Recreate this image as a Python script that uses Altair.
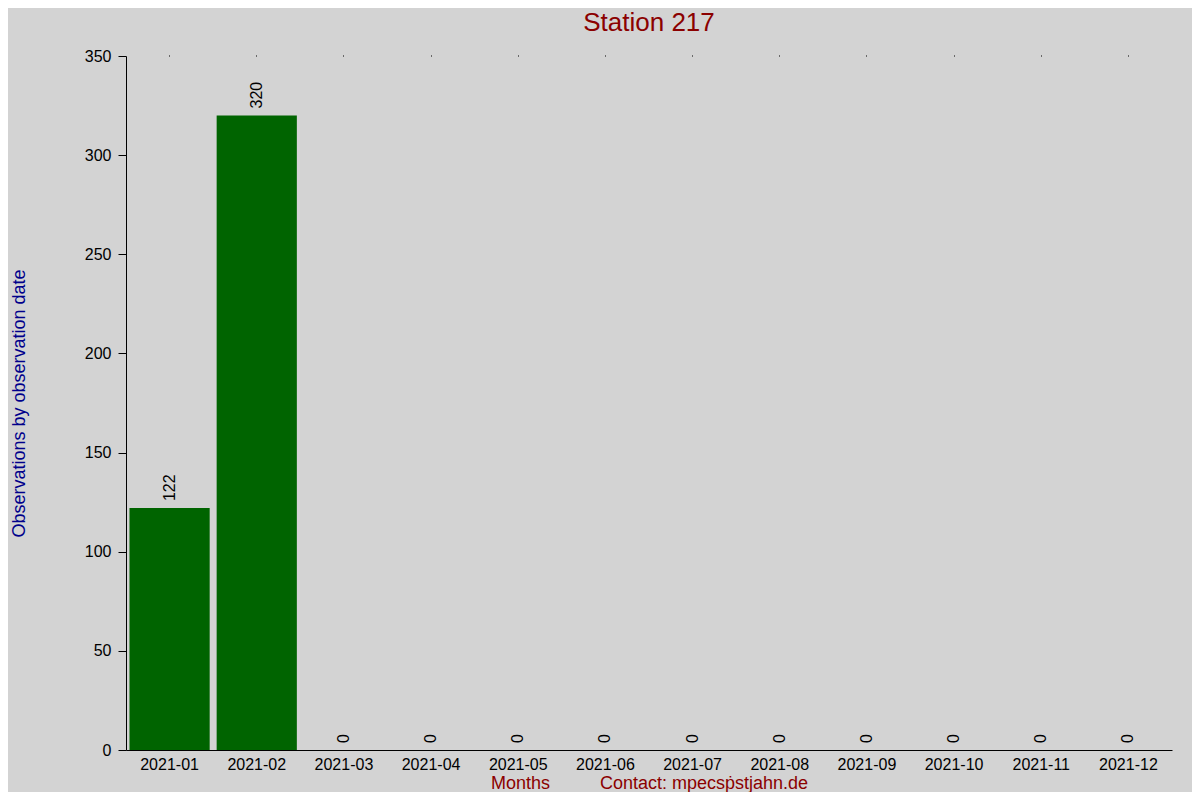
import altair as alt
import pandas as pd

months = ["2021-01", "2021-02", "2021-03", "2021-04", "2021-05", "2021-06",
          "2021-07", "2021-08", "2021-09", "2021-10", "2021-11", "2021-12"]
counts = [122, 320, 0, 0, 0, 0, 0, 0, 0, 0, 0, 0]

df = pd.DataFrame({"month": months, "count": counts})

FONT = "Liberation Sans"
xscale = alt.Scale(paddingInner=0.08, paddingOuter=0.04)
yscale = alt.Scale(domain=[0, 350], nice=False)

xtitle = "Months" + "\u00a0" * 10 + "Contact: mpecs\u1e57stjahn.de"

base = alt.Chart(df)

bars = base.mark_bar(color="#006400").encode(
    x=alt.X("month:N", sort=months, scale=xscale,
            axis=alt.Axis(title=xtitle, titleFont=FONT, titleFontSize=18,
                          titleFontWeight="normal", titleColor="#8B0000",
                          titleX=523, titleY=38, titleBaseline="alphabetic",
                          titleAlign="center",
                          labelFont=FONT, labelFontSize=16, labelColor="black",
                          labelAngle=0, labelPadding=6, ticks=False,
                          domainColor="black", domainWidth=1)),
    y=alt.Y("count:Q", scale=yscale,
            axis=alt.Axis(values=[0, 50, 100, 150, 200, 250, 300, 350],
                          title="Observations by observation date",
                          titleFont=FONT, titleFontSize=18, titleFontWeight="normal",
                          titleColor="#00008B", titleX=-107, titleY=347,
                          titleAngle=270, titleAlign="center", titleBaseline="middle",
                          labelFont=FONT, labelFontSize=16, labelColor="black",
                          labelPadding=7, tickSize=8, tickColor="black",
                          domainColor="black", grid=False)),
)

labels = base.mark_text(angle=270, align="left", baseline="middle", dx=7,
                        fontSize=16, font=FONT, color="black").encode(
    x=alt.X("month:N", sort=months, scale=xscale,
            axis=alt.Axis(orient="top", labels=False, domain=False, ticks=True,
                          tickSize=1, tickColor="black", title=None)),
    y=alt.Y("count:Q", scale=yscale),
    text=alt.Text("count:Q"),
)

chart = alt.layer(bars, labels).resolve_axis(x="independent").properties(
    width=1046,
    height=694,
    title=alt.TitleParams("Station 217", font=FONT, fontSize=26, fontWeight="normal",
                          color="#8B0000", anchor="middle", offset=12),
    background="#D3D3D3",
    padding={"left": 118, "top": 48, "right": 20, "bottom": 42},
    autosize=alt.AutoSizeParams(type="none"),
).configure_view(stroke=None)

chart.save("out.html", embed_options={"renderer": "svg", "actions": False})
